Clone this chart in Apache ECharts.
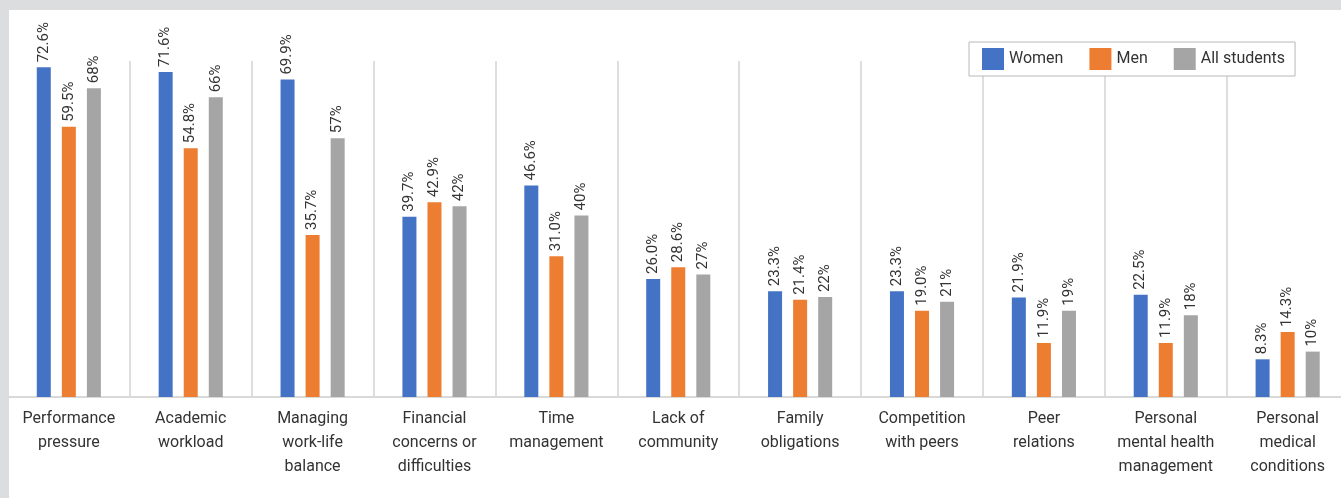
<!DOCTYPE html>
<html><head><meta charset="utf-8">
<script src="https://cdn.jsdelivr.net/npm/echarts@6/dist/echarts.min.js"></script>
<style>html,body{margin:0;padding:0;background:#dcdddf;overflow:hidden;}#c{width:1352px;height:498px;}</style>
</head><body><div id="c"></div>
<script>
const categories = ["Performance\npressure","Academic\nworkload","Managing\nwork-life\nbalance","Financial\nconcerns or\ndifficulties","Time\nmanagement","Lack of\ncommunity","Family\nobligations","Competition\nwith peers","Peer\nrelations","Personal\nmental health\nmanagement","Personal\nmedical\nconditions"];
const women = [72.6,71.6,69.9,39.7,46.6,26.0,23.3,23.3,21.9,22.5,8.3];
const men = [59.5,54.8,35.7,42.9,31.0,28.6,21.4,19.0,11.9,11.9,14.3];
const allStudents = [68,66,57,42,40,27,22,21,19,18,10];
const seriesNames = ["Women","Men","All students"];
const colors = ["#4472C4","#ED7D31","#A5A5A5"];
const decimals = [1,1,0];

const FONT = "Roboto";
const chart = echarts.init(document.getElementById('c'));
const mk = (name, data, i) => ({
  name, type:'bar', data, barWidth:14, barGap:'79%', clip:false,
  itemStyle:{color:colors[i]},
  label:{show:true, position:'top', rotate:90, align:'left', verticalAlign:'middle', distance:5,
    fontFamily:FONT, fontSize:15, color:'#333',
    formatter:p=>p.value.toFixed(decimals[i])+'%'}
});
chart.setOption({
  backgroundColor:'#dcdddf',
  animation:false,
  graphic:[{type:'rect', z:-10, shape:{x:9,y:10,width:1400,height:600}, style:{fill:'#ffffff'}}],
  legend:{left:969, top:42, orient:'horizontal',
    borderColor:'#b8b8b8', borderWidth:1, backgroundColor:'#fff',
    padding:[6,10,6,13], itemWidth:22, itemHeight:22, itemGap:26, icon:'rect',
    textStyle:{fontFamily:FONT, fontSize:16, color:'#333'}, data:seriesNames},
  grid:{left:7.9, width:1340.7, top:61, bottom:101, containLabel:false},
  xAxis:{type:'category', data:categories,
    axisLine:{show:true, lineStyle:{color:'#d9d9d9', width:2}},
    axisTick:{show:false},
    splitLine:{show:true, showMinLine:false, showMaxLine:false, lineStyle:{color:'#dedede', width:2}},
    axisLabel:{interval:0, margin:10, fontFamily:FONT, fontSize:16, lineHeight:24, color:'#333'}},
  yAxis:{type:'value', min:0, max:74, show:false, splitLine:{show:false}},
  series:[mk(seriesNames[0],women,0), mk(seriesNames[1],men,1), mk(seriesNames[2],allStudents,2)]
});
</script></body></html>
